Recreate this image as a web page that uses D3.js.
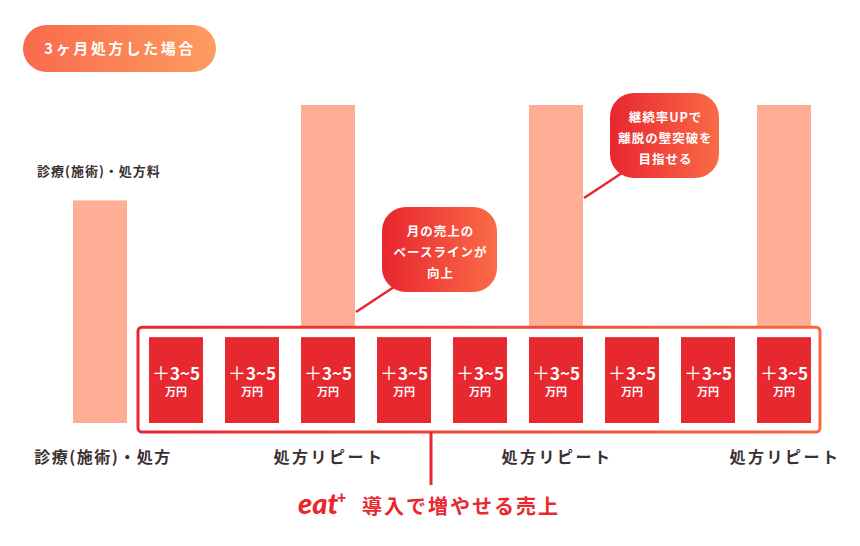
<!DOCTYPE html>
<html>
<head>
<meta charset="utf-8">
<script src="https://cdn.jsdelivr.net/npm/d3@7"></script>
<style>
  html, body { margin: 0; padding: 0; background: #fff; }
  svg { display: block; font-family: "Noto Sans CJK JP", "Noto Sans", sans-serif; font-weight: 700; }
</style>
</head>
<body>
<div id="chart"></div>
<script>
// 10 slots: 初回 + 9 eat+ 月
const slots = d3.range(10);
const baseValues = [70, 0, 0, 100, 0, 0, 100, 0, 0, 100];   // 診療・処方料
const eatValues = [0, 27, 27, 27, 27, 27, 27, 27, 27, 27];   // eat+ 売上
const eatLabel = "3~5";
const eatUnit = "万円";
const bottomLabels = [
  { slot: 0, text: "診療(施術)・処方" },
  { slot: 3, text: "処方リピート" },
  { slot: 6, text: "処方リピート" },
  { slot: 9, text: "処方リピート" }
];
const notes = [
  { slot: 3, top: 207, lines: ["月の売上の", "ベースラインが", "向上"] },
  { slot: 6, top: 93, lines: ["継続率UPで", "離脱の壁突破を", "目指せる"] }
];

const W = 860, H = 546;
const RED = "#e8282f", SALMON = "#fdae94", DARK = "#3b3031";

const svg = d3.select('#chart').append('svg')
  .attr('width', W).attr('height', H);

const defs = svg.append('defs');
function grad(id, x1, x2, c1, c2) {
  const g = defs.append('linearGradient').attr('id', id)
    .attr('gradientUnits', 'userSpaceOnUse')
    .attr('x1', x1).attr('x2', x2).attr('y1', 0).attr('y2', 0);
  g.append('stop').attr('offset', 0).attr('stop-color', c1);
  g.append('stop').attr('offset', 1).attr('stop-color', c2);
}

const x = d3.scaleBand().domain(slots).range([73, 811]).paddingInner(22 / 76).paddingOuter(0);
const y = d3.scaleLinear().domain([0, 100]).range([423, 105]);
const bw = x.bandwidth();

// badge
grad('badgeGrad', 23, 216, '#f96a4d', '#fd9c60');
svg.append('rect').attr('x', 23).attr('y', 25).attr('width', 193).attr('height', 47)
  .attr('rx', 23.5).attr('fill', 'url(#badgeGrad)');
svg.append('text').attr('x', 120).attr('y', 54).attr('text-anchor', 'middle')
  .attr('fill', '#fff').attr('font-size', 15).attr('letter-spacing', 2.5)
  .text('3ヶ月処方した場合');

// base bars
svg.append('g').selectAll('rect')
  .data(slots.filter(i => baseValues[i] > 0))
  .join('rect')
  .attr('x', i => x(i)).attr('width', bw)
  .attr('y', i => y(baseValues[i])).attr('height', i => y(0) - y(baseValues[i]))
  .attr('fill', SALMON);

svg.append('text').attr('x', 37).attr('y', 176)
  .attr('fill', DARK).attr('font-size', 13).attr('letter-spacing', 1)
  .text('診療(施術)・処方料');

// eat+ box
const boxL = x(1) - 11, boxR = x(9) + bw + 9;
const boxT = y(27) - 10, boxB = y(0) + 9;
grad('boxGrad', boxL, boxR, '#e8262f', '#f8683f');
svg.append('rect').attr('x', boxL).attr('y', boxT)
  .attr('width', boxR - boxL).attr('height', boxB - boxT).attr('rx', 4)
  .attr('fill', '#fff').attr('stroke', 'url(#boxGrad)').attr('stroke-width', 3);

const eat = svg.append('g').selectAll('g')
  .data(slots.filter(i => eatValues[i] > 0))
  .join('g');
eat.append('rect')
  .attr('x', i => x(i)).attr('width', bw)
  .attr('y', i => y(eatValues[i])).attr('height', i => y(0) - y(eatValues[i]))
  .attr('fill', RED);
const lbl = eat.append('text')
  .attr('x', i => x(i) + bw / 2).attr('y', 380).attr('text-anchor', 'middle')
  .attr('fill', '#fff');
lbl.append('tspan').attr('font-size', 18).attr('font-weight', 400).text('＋');
lbl.append('tspan').attr('font-size', 17).text(eatLabel);
eat.append('text')
  .attr('x', i => x(i) + bw / 2).attr('y', 396).attr('text-anchor', 'middle')
  .attr('fill', '#fff').attr('font-size', 11).text(eatUnit);

// bottom labels
svg.append('g').selectAll('text')
  .data(bottomLabels)
  .join('text')
  .attr('x', d => x(d.slot) + bw / 2 + (d.slot === 0 ? 3 : 1))
  .attr('y', 463).attr('text-anchor', 'middle')
  .attr('fill', DARK).attr('font-size', 16)
  .attr('letter-spacing', d => d.slot === 0 ? 1.5 : 2.5)
  .text(d => d.text);

// connector + caption
svg.append('line').attr('x1', 431).attr('x2', 431).attr('y1', boxB).attr('y2', 485)
  .attr('stroke', RED).attr('stroke-width', 3);

const cap = svg.append('text').attr('y', 514).attr('fill', RED);
cap.append('tspan').attr('x', 298).attr('font-family', 'Lato, "DejaVu Sans", sans-serif')
  .attr('font-style', 'italic').attr('font-weight', 900).attr('font-size', 29).text('eat');
cap.append('tspan').attr('x', 337).attr('dy', -11).attr('font-size', 16).attr('font-weight', 900)
  .attr('font-family', 'Lato, sans-serif').text('+');
cap.append('tspan').attr('x', 362).attr('dy', 11).attr('font-size', 20).attr('letter-spacing', 2)
  .text('導入で増やせる売上');

// annotation bubbles
grad('noteGrad0', 382, 497, '#e8262f', '#fa6b47');
grad('noteGrad1', 610, 719, '#e8262f', '#fa6b47');
notes.forEach((n, k) => {
  const left = x(n.slot) + bw + 27;
  const w = k === 0 ? 115 : 109, h = 85;
  svg.append('line')
    .attr('x1', x(n.slot) + bw + 1).attr('y1', n.top + 105)
    .attr('x2', left + 12).attr('y2', n.top + 80)
    .attr('stroke', RED).attr('stroke-width', 2.5);
  svg.append('rect').attr('x', left).attr('y', n.top).attr('width', w).attr('height', h)
    .attr('rx', 24).attr('fill', `url(#noteGrad${k})`);
  svg.append('g').selectAll('text')
    .data(n.lines)
    .join('text')
    .attr('x', left + w / 2 + 1).attr('y', (d, i) => n.top + 29 + i * 21)
    .attr('text-anchor', 'middle').attr('fill', '#fff')
    .attr('font-size', 12.5).attr('letter-spacing', 1)
    .text(d => d);
});
</script>
</body>
</html>
